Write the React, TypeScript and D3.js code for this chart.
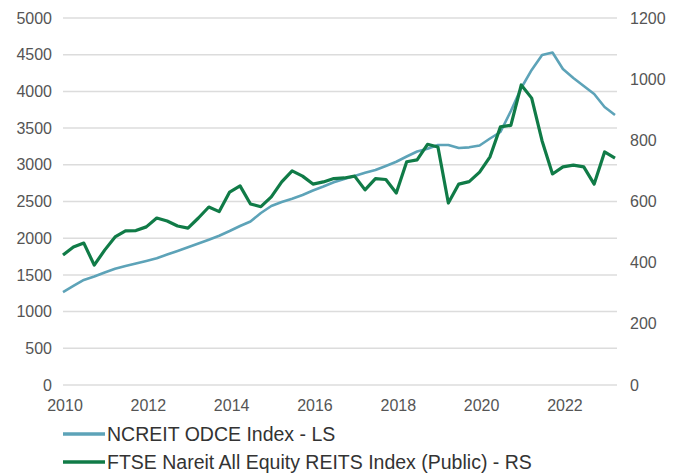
import React from "react";
import * as d3 from "d3";

// Quarterly index values, 2010 Q1 .. 2023 Q2
const odceValues: number[] = [
  1267, 1349, 1431, 1478, 1533, 1583, 1621, 1655, 1689, 1726,
  1778, 1826, 1876, 1928, 1980, 2034, 2098, 2166, 2228, 2343,
  2439, 2493, 2538, 2589, 2650, 2704, 2762, 2807, 2847, 2892,
  2929, 2984, 3042, 3113, 3181, 3219, 3270, 3270, 3229, 3238,
  3263, 3358, 3447, 3733, 4046, 4292, 4496, 4530, 4305, 4183,
  4074, 3965, 3787, 3678,
];

const reitValues: number[] = [
  425, 451, 464, 392, 441, 484, 504, 505, 517, 546,
  536, 520, 513, 546, 582, 567, 631, 651, 592, 583,
  615, 664, 700, 683, 657, 664, 675, 677, 683, 638,
  675, 672, 628, 730, 736, 787, 778, 595, 657, 665,
  696, 746, 844, 849, 981, 938, 798, 690, 713, 719,
  713, 657, 762, 742,
];

const yearLabels: number[] = [2010, 2012, 2014, 2016, 2018, 2020, 2022];
const leftTicks: number[] = [0, 500, 1000, 1500, 2000, 2500, 3000, 3500, 4000, 4500, 5000];
const rightTicks: number[] = [0, 200, 400, 600, 800, 1000, 1200];
const seriesNames: string[] = [
  "NCREIT ODCE Index - LS",
  "FTSE Nareit All Equity REITS Index (Public) - RS",
];
const seriesColors: string[] = ["#5da3b8", "#107b47"];

export default function App() {
  const W = 680;
  const H = 475;
  const plotLeft = 63;
  const plotRight = 617;
  const top = 18;
  const bottom = 385;

  const x = d3.scaleLinear().domain([0, odceValues.length - 1]).range([63, 615]);
  const yL = d3.scaleLinear().domain([0, 5000]).range([bottom, top]);
  const yR = d3.scaleLinear().domain([0, 1200]).range([bottom, top]);
  const xYear = (yr: number) => x((yr - 2010) * 4);

  const lineL = d3
    .line<number>()
    .x((_, i) => x(i))
    .y((d) => yL(d));
  const lineR = d3
    .line<number>()
    .x((_, i) => x(i))
    .y((d) => yR(d));

  const font = "'Liberation Sans', Arial, sans-serif";
  const txt = "#555555";

  return (
    <svg
      width={W}
      height={H}
      viewBox={`0 0 ${W} ${H}`}
      style={{ position: "absolute", left: 0, top: 0, background: "#fff" }}
    >
      <rect x={0} y={0} width={W} height={H} fill="#fff" />
      {leftTicks.map((t) => (
        <line
          key={"g" + t}
          x1={plotLeft}
          x2={plotRight}
          y1={yL(t)}
          y2={yL(t)}
          stroke="#dcdcdc"
          strokeWidth={1.5}
        />
      ))}
      {leftTicks.map((t) => (
        <text
          key={"l" + t}
          x={52}
          y={yL(t)}
          dy="0.35em"
          textAnchor="end"
          fontFamily={font}
          fontSize={16}
          fill={txt}
        >
          {t}
        </text>
      ))}
      {rightTicks.map((t) => (
        <text
          key={"r" + t}
          x={630}
          y={yR(t)}
          dy="0.35em"
          textAnchor="start"
          fontFamily={font}
          fontSize={16}
          fill={txt}
        >
          {t}
        </text>
      ))}
      {yearLabels.map((yr) => (
        <text
          key={"x" + yr}
          x={xYear(yr) + 2}
          y={405}
          dy="0.35em"
          textAnchor="middle"
          fontFamily={font}
          fontSize={16}
          fill={txt}
        >
          {yr}
        </text>
      ))}
      <path
        d={lineL(odceValues) || ""}
        fill="none"
        stroke={seriesColors[0]}
        strokeWidth={2.6}
        strokeLinejoin="round"
      />
      <path
        d={lineR(reitValues) || ""}
        fill="none"
        stroke={seriesColors[1]}
        strokeWidth={3.2}
        strokeLinejoin="round"
      />
      {seriesNames.map((name, i) => {
        const ly = 434 + i * 28;
        return (
          <g key={"leg" + i}>
            <line
              x1={63}
              x2={105}
              y1={ly}
              y2={ly}
              stroke={seriesColors[i]}
              strokeWidth={3.5}
            />
            <text
              x={107}
              y={ly}
              dy="0.36em"
              fontFamily={font}
              fontSize={19.5}
              fill="#333"
            >
              {name}
            </text>
          </g>
        );
      })}
    </svg>
  );
}
